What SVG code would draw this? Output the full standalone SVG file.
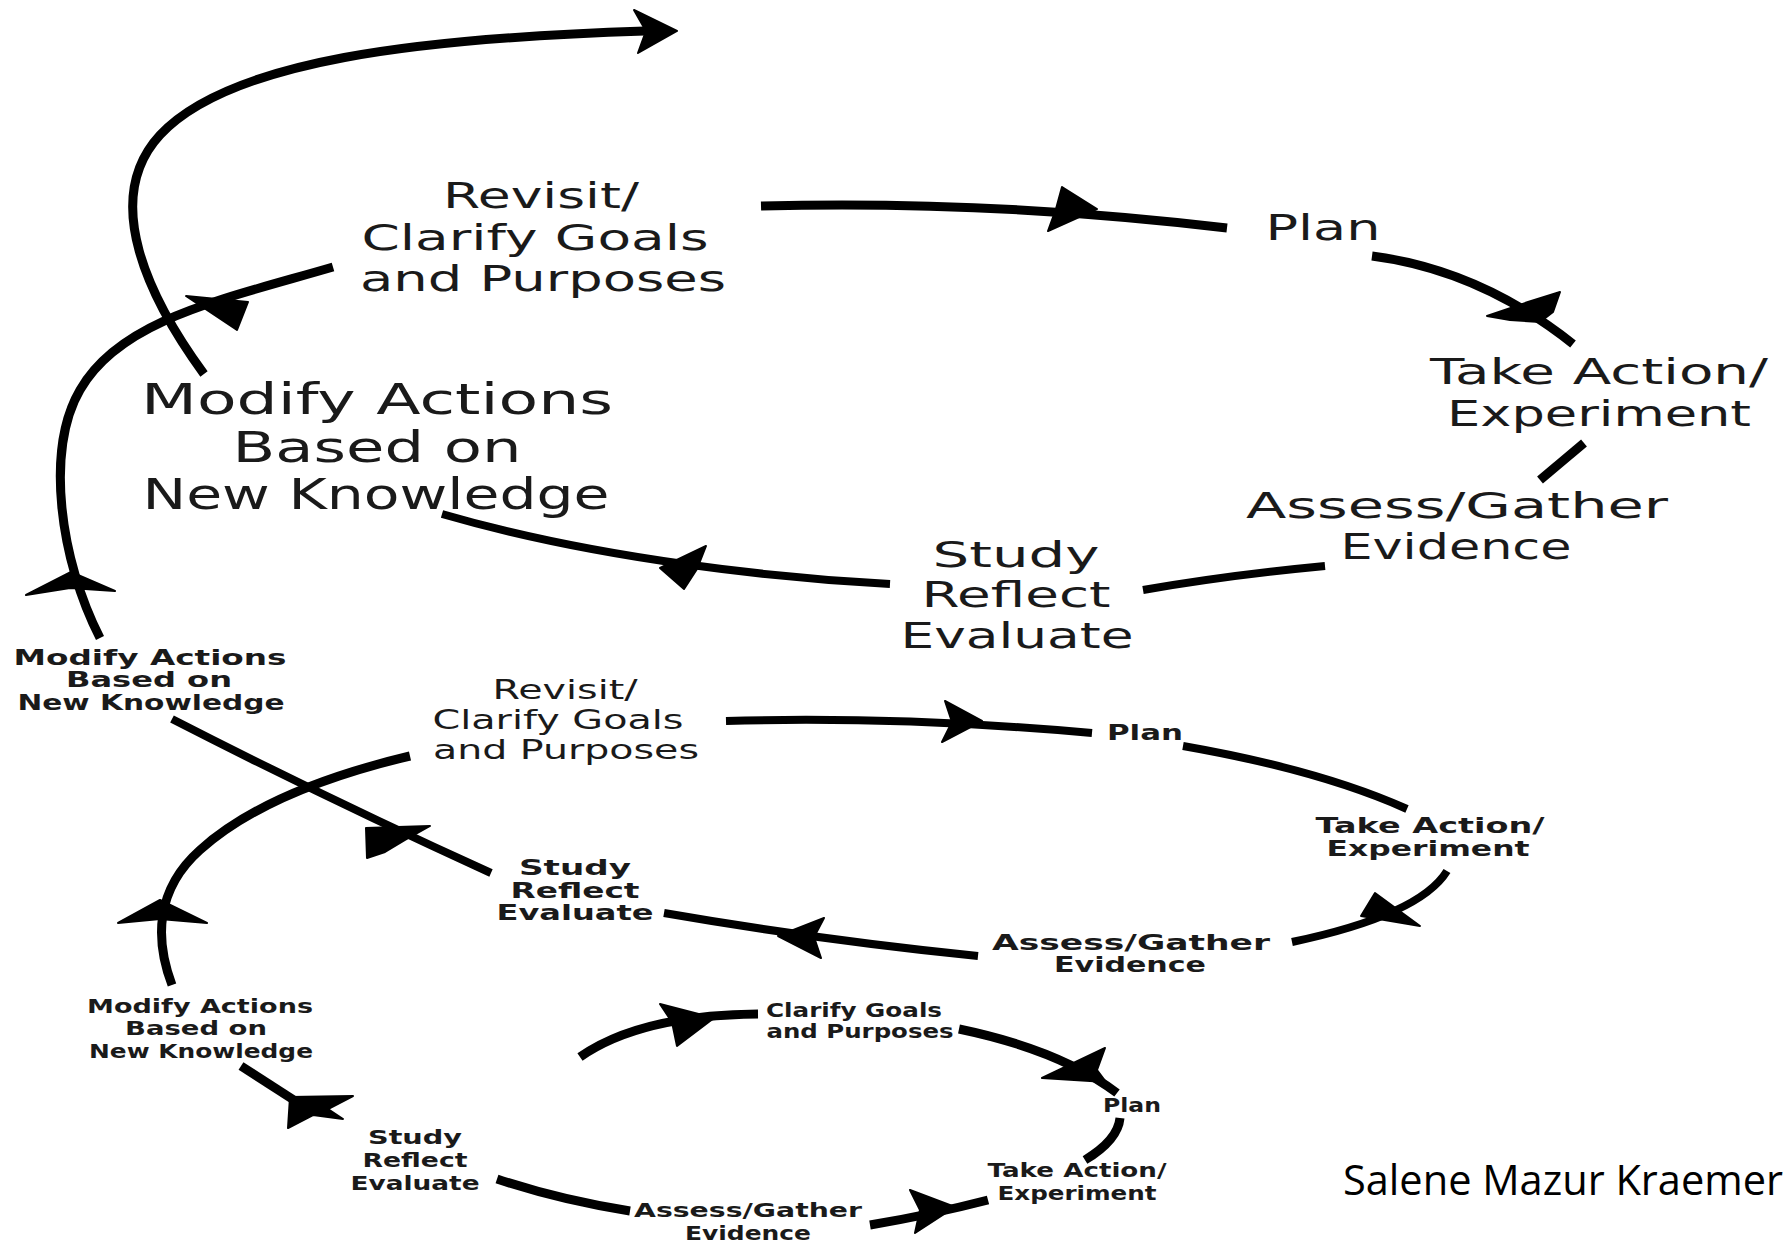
<svg xmlns="http://www.w3.org/2000/svg" width="1790" height="1242" viewBox="0 0 1790 1242">
<style>
.ln{fill:none;stroke:#000;stroke-linecap:butt;stroke-linejoin:round}
.w9{stroke-width:9}
.w8{stroke-width:8}
.ah{fill:#000;stroke:#000;stroke-width:2;stroke-linejoin:round}
.t{font-family:"DejaVu Sans","Liberation Sans",sans-serif;fill:#1a1a1a;text-anchor:middle;dominant-baseline:central}
.big{font-size:36px}
.bigm{font-size:42px}
.mid{font-size:26px}
.mids{font-size:21px;font-weight:bold}
.sm{font-size:19px;font-weight:bold}
.credit{font-family:"Open Sans","Liberation Sans",sans-serif;font-size:42px;fill:#000}
</style>
<rect width="1790" height="1242" fill="#fff"/>
<g id="connectors">
<path class="ln w9" d="M 761 206 Q 990 200 1227 228"/>
<path class="ln w9" d="M 1372 256 Q 1480 270 1573 344"/>
<path class="ln w9" d="M 1584 443 L 1540 480"/>
<path class="ln w8" d="M 1325 566 Q 1230 575 1143 590"/>
<path class="ln w8" d="M 890 584 C 780 578, 600 560, 442 514"/>
<path class="ln w9" d="M 100 638 C 60 560, 45 450, 80 390 C 120 320, 220 300, 333 267"/>
<path class="ln w9" d="M 204 374 C 150 300, 100 200, 160 135 C 230 60, 420 38, 645 31"/>
<path class="ln w8" d="M 726 721 Q 900 716 1092 733"/>
<path class="ln w8" d="M 1183 746 Q 1320 770 1407 809"/>
<path class="ln w8" d="M 1447 871 Q 1420 915 1292 942"/>
<path class="ln w8" d="M 978 956 Q 820 940 664 913"/>
<path class="ln w8" d="M 491 873 Q 330 800 172 719"/>
<path class="ln w9" d="M 172 985 C 155 940, 155 890, 200 850 C 250 805, 330 775, 410 756"/>
<path class="ln w9" d="M 241 1066 L 300 1104"/>
<path class="ln w9" d="M 497 1179 Q 560 1200 630 1211"/>
<path class="ln w9" d="M 870 1225 Q 930 1215 988 1200"/>
<path class="ln w9" d="M 1085 1160 Q 1118 1140 1120 1118"/>
<path class="ln w9" d="M 959 1029 Q 1060 1050 1117 1093"/>
<path class="ln w9" d="M 580 1057 Q 640 1015 758 1014"/>
<polygon class="ah" points="1062,187 1097,209 1048,231 1056,209"/>
<polygon class="ah" points="1487,316 1528,302 1560,292 1553,312 1540,322 1510,320"/>
<polygon class="ah" points="660,568 706,546 697,569 684,589"/>
<polygon class="ah" points="26,595 71,572 115,591 70,588"/>
<polygon class="ah" points="186,296 248,302 237,330"/>
<polygon class="ah" points="634,10 677,31 638,53 646,31"/>
<polygon class="ah" points="945,701 982,721 942,742 952,722"/>
<polygon class="ah" points="1375,893 1420,926 1361,916"/>
<polygon class="ah" points="824,918 778,936 821,958 814,937"/>
<polygon class="ah" points="366,828 430,826 405,840 385,852 367,858"/>
<polygon class="ah" points="118,923 160,900 207,923 160,919"/>
<polygon class="ah" points="290,1097 353,1096 328,1109 343,1119 313,1115 288,1128"/>
<polygon class="ah" points="910,1190 955,1207 915,1233 920,1210"/>
<polygon class="ah" points="1105,1048 1042,1078 1106,1082 1097,1070"/>
<polygon class="ah" points="660,1004 714,1018 677,1046 672,1022"/>
</g>
<g id="big-revisit" class="t big">
<text x="541" y="195" textLength="196" lengthAdjust="spacingAndGlyphs">Revisit/</text>
<text x="535" y="237" textLength="347" lengthAdjust="spacingAndGlyphs">Clarify Goals</text>
<text x="543" y="278" textLength="366" lengthAdjust="spacingAndGlyphs">and Purposes</text>
</g>
<g id="big-plan" class="t big">
<text x="1323" y="227" textLength="115" lengthAdjust="spacingAndGlyphs">Plan</text>
</g>
<g id="big-action" class="t big">
<text x="1599" y="371" textLength="338" lengthAdjust="spacingAndGlyphs">Take Action/</text>
<text x="1599" y="413" textLength="304" lengthAdjust="spacingAndGlyphs">Experiment</text>
</g>
<g id="big-assess" class="t big">
<text x="1457" y="505" textLength="422" lengthAdjust="spacingAndGlyphs">Assess/Gather</text>
<text x="1456" y="546" textLength="231" lengthAdjust="spacingAndGlyphs">Evidence</text>
</g>
<g id="big-study" class="t big">
<text x="1016" y="554" textLength="167" lengthAdjust="spacingAndGlyphs">Study</text>
<text x="1016" y="594" textLength="189" lengthAdjust="spacingAndGlyphs">Reflect</text>
<text x="1017" y="635" textLength="233" lengthAdjust="spacingAndGlyphs">Evaluate</text>
</g>
<g id="big-modify" class="t bigm">
<text x="377" y="399" textLength="472" lengthAdjust="spacingAndGlyphs">Modify Actions</text>
<text x="377" y="447" textLength="289" lengthAdjust="spacingAndGlyphs">Based on</text>
<text x="376" y="494" textLength="467" lengthAdjust="spacingAndGlyphs">New Knowledge</text>
</g>
<g id="mid-modify" class="t mids">
<text x="150" y="658" textLength="273" lengthAdjust="spacingAndGlyphs">Modify Actions</text>
<text x="149" y="680" textLength="166" lengthAdjust="spacingAndGlyphs">Based on</text>
<text x="151" y="703" textLength="267" lengthAdjust="spacingAndGlyphs">New Knowledge</text>
</g>
<g id="mid-revisit" class="t mid">
<text x="565" y="690" textLength="145" lengthAdjust="spacingAndGlyphs">Revisit/</text>
<text x="558" y="720" textLength="251" lengthAdjust="spacingAndGlyphs">Clarify Goals</text>
<text x="566" y="750" textLength="266" lengthAdjust="spacingAndGlyphs">and Purposes</text>
</g>
<g id="mid-plan" class="t mids">
<text x="1145" y="733" textLength="76" lengthAdjust="spacingAndGlyphs">Plan</text>
</g>
<g id="mid-action" class="t mids">
<text x="1430" y="826" textLength="229" lengthAdjust="spacingAndGlyphs">Take Action/</text>
<text x="1428" y="849" textLength="203" lengthAdjust="spacingAndGlyphs">Experiment</text>
</g>
<g id="mid-assess" class="t mids">
<text x="1131" y="943" textLength="278" lengthAdjust="spacingAndGlyphs">Assess/Gather</text>
<text x="1130" y="965" textLength="152" lengthAdjust="spacingAndGlyphs">Evidence</text>
</g>
<g id="mid-study" class="t mids">
<text x="575" y="868" textLength="112" lengthAdjust="spacingAndGlyphs">Study</text>
<text x="575" y="891" textLength="129" lengthAdjust="spacingAndGlyphs">Reflect</text>
<text x="575" y="913" textLength="157" lengthAdjust="spacingAndGlyphs">Evaluate</text>
</g>
<g id="small-modify" class="t sm">
<text x="200" y="1006" textLength="226" lengthAdjust="spacingAndGlyphs">Modify Actions</text>
<text x="196" y="1028" textLength="142" lengthAdjust="spacingAndGlyphs">Based on</text>
<text x="201" y="1051" textLength="224" lengthAdjust="spacingAndGlyphs">New Knowledge</text>
</g>
<g id="small-clarify" class="t sm">
<text x="854" y="1010" textLength="176" lengthAdjust="spacingAndGlyphs">Clarify Goals</text>
<text x="860" y="1031" textLength="187" lengthAdjust="spacingAndGlyphs">and Purposes</text>
</g>
<g id="small-plan" class="t sm">
<text x="1132" y="1105" textLength="58" lengthAdjust="spacingAndGlyphs">Plan</text>
</g>
<g id="small-action" class="t sm">
<text x="1077" y="1170" textLength="179" lengthAdjust="spacingAndGlyphs">Take Action/</text>
<text x="1077" y="1193" textLength="159" lengthAdjust="spacingAndGlyphs">Experiment</text>
</g>
<g id="small-study" class="t sm">
<text x="415" y="1137" textLength="94" lengthAdjust="spacingAndGlyphs">Study</text>
<text x="415" y="1160" textLength="105" lengthAdjust="spacingAndGlyphs">Reflect</text>
<text x="415" y="1183" textLength="129" lengthAdjust="spacingAndGlyphs">Evaluate</text>
</g>
<g id="small-assess" class="t sm">
<text x="748" y="1210" textLength="228" lengthAdjust="spacingAndGlyphs">Assess/Gather</text>
<text x="748" y="1233" textLength="126" lengthAdjust="spacingAndGlyphs">Evidence</text>
</g>
<g id="credit">
<text class="credit" x="1343" y="1195" textLength="440" lengthAdjust="spacingAndGlyphs">Salene Mazur Kraemer</text>
</g>
</svg>
